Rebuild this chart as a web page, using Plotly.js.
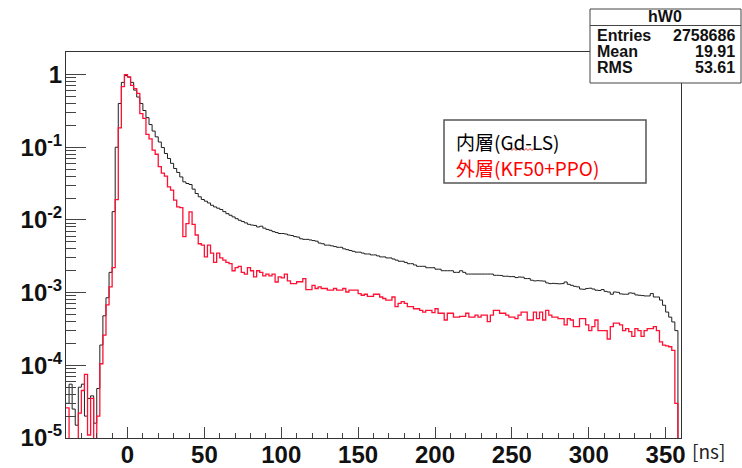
<!DOCTYPE html>
<html>
<head>
<meta charset="utf-8">
<script src="https://cdn.plot.ly/plotly-3.0.1.min.js"></script>
<style>html,body{margin:0;padding:0;background:#fff;}#chart{width:742px;height:468px;}</style>
</head>
<body>
<div id="chart"></div>
<script>
// Histogram hW0: 200 bins of 2 ns from -40 ns to 360 ns (bin contents, normalised to peak)
const nsStart = -40;
const binWidth = 2;

// 内層(Gd-LS) — black histogram
const innerGdLS = [
  3.0e-5, 5.5e-5, 2.5e-5, 1.5e-5, 5.0e-5, 5.5e-5, 2.0e-5, 3.5e-5, 3.8e-5, 1.6e-5,
  4.8e-5, 1.9e-4, 4.8e-4, 8.5e-4, 1.9e-3, 1.3e-2, 0.10, 0.40, 0.78, 0.97,
  0.92, 0.78, 0.61, 0.49, 0.40, 0.32, 0.255, 0.205, 0.167, 0.139,
  0.118, 0.099, 0.082, 0.070, 0.060, 0.051, 0.045, 0.039, 0.0334, 0.0317,
  0.0307, 0.0265, 0.0231, 0.0208, 0.0191, 0.0181, 0.0171, 0.0159, 0.0151, 0.0145,
  0.0139, 0.0130, 0.0122, 0.0116, 0.0110, 0.0104, 0.0099, 0.0095, 0.0091, 0.0087,
  0.0085, 0.0084, 0.0080, 0.0082, 0.0077, 0.0074, 0.0072, 0.0069, 0.0067, 0.0065,
  0.0065, 0.0064, 0.0062, 0.0061, 0.0059, 0.0058, 0.0055, 0.0054, 0.0054, 0.0053,
  0.0052, 0.0051, 0.0048, 0.0047, 0.0045, 0.0045, 0.0044, 0.0043, 0.0042, 0.0042,
  0.0040, 0.0039, 0.0038, 0.0037, 0.0036, 0.0036, 0.0035, 0.0034, 0.0034, 0.0033,
  0.0033, 0.0032, 0.0031, 0.0031, 0.0030, 0.0030, 0.0029, 0.0028, 0.0027, 0.0027,
  0.0026, 0.0025, 0.0025, 0.0024, 0.0023, 0.0023, 0.0023, 0.0022, 0.0022, 0.0022,
  0.0021, 0.0021, 0.0020, 0.0020, 0.0020, 0.0020, 0.0019, 0.0019, 0.0020, 0.0019,
  0.0018, 0.0018, 0.0018, 0.0018, 0.0018, 0.0018, 0.0018, 0.0018, 0.00180, 0.00173,
  0.00173, 0.00172, 0.00168, 0.00168, 0.00166, 0.00166, 0.00161, 0.00164, 0.00163, 0.00156,
  0.00156, 0.00148, 0.00145, 0.00146, 0.00145, 0.00144, 0.00136, 0.00133, 0.00134, 0.00133,
  0.00132, 0.00133, 0.00140, 0.00130, 0.00126, 0.00122, 0.00120, 0.00112, 0.00111, 0.00114,
  0.00115, 0.00112, 0.00108, 0.00107, 0.00110, 0.00104, 0.00102, 0.00095, 0.00102, 0.00101,
  0.00096, 0.00095, 0.00095, 0.00099, 0.00098, 0.00093, 0.00092, 0.00091, 0.00090, 0.00090,
  0.00097, 0.00087, 0.00087, 0.00079, 0.00067, 0.00054, 0.00046, 0.000395, 0.00030, 0
];

// 外層(KF50+PPO) — red histogram
const outerKF50PPO = [
  2.6e-5, 0, 0, 0, 2.2e-5, 4.5e-5, 7.5e-5, 1.1e-5, 3.5e-5, 0,
  2.0e-5, 1.05e-4, 2.6e-4, 6.8e-4, 1.2e-3, 2.2e-3, 0.019, 0.185, 0.68, 1.0,
  0.93, 0.71, 0.64, 0.55, 0.29, 0.25, 0.15, 0.13, 0.091, 0.080,
  0.054, 0.044, 0.040, 0.0285, 0.0257, 0.0187, 0.0151, 0.0148, 0.0059, 0.0089,
  0.0129, 0.0087, 0.0062, 0.0047, 0.0045, 0.0031, 0.0045, 0.0035, 0.0026, 0.0035,
  0.0030, 0.0028, 0.0026, 0.0025, 0.0020, 0.0022, 0.0023, 0.0019, 0.0018, 0.0022,
  0.0020, 0.00165, 0.0020, 0.0019, 0.0017, 0.0018, 0.0017, 0.0018, 0.0014, 0.00165,
  0.0016, 0.0018, 0.00145, 0.00133, 0.00133, 0.00141, 0.00141, 0.00156, 0.00110, 0.00110,
  0.00126, 0.00114, 0.00120, 0.00114, 0.00114, 0.00108, 0.00108, 0.00114, 0.00108, 0.00108,
  0.00114, 0.00102, 0.00108, 0.00108, 0.00108, 0.00097, 0.00092, 0.00095, 0.00089, 0.00089,
  0.00095, 0.00095, 0.00087, 0.00083, 0.00079, 0.00079, 0.00087, 0.00064, 0.00071, 0.00075,
  0.00071, 0.00064, 0.00064, 0.00060, 0.00060, 0.00057, 0.00054, 0.00057, 0.00057, 0.00053,
  0.00060, 0.00052, 0.00052, 0.00042, 0.00052, 0.00052, 0.00046, 0.00046, 0.00047, 0.00047,
  0.00052, 0.00046, 0.00046, 0.00049, 0.00046, 0.00049, 0.00049, 0.00040, 0.00049, 0.00057,
  0.00057, 0.00052, 0.00052, 0.00049, 0.00046, 0.00046, 0.00044, 0.00049, 0.00054, 0.00054,
  0.00042, 0.00042, 0.00054, 0.00044, 0.00054, 0.00042, 0.00057, 0.00049, 0.00046, 0.00046,
  0.00044, 0.00044, 0.00036, 0.00044, 0.00042, 0.00034, 0.00034, 0.00044, 0.00044, 0.00036,
  0.00030, 0.00034, 0.00042, 0.00030, 0.00030, 0.00030, 0.00023, 0.00034, 0.00038, 0.00038,
  0.00036, 0.00030, 0.00032, 0.00029, 0.00025, 0.00032, 0.00030, 0.00025, 0.00030, 0.00032,
  0.00032, 0.00034, 0.00030, 0.00021, 0.00019, 0.000185, 0.00018, 0.00016, 0.00003, 0
];

const seriesNames = ['内層(Gd-LS)', '外層(KF50+PPO)'];
const yTickVals = [1e-5, 1e-4, 1e-3, 1e-2, 1e-1, 1];
const yTickText = ['10<sup>-5</sup>', '10<sup>-4</sup>', '10<sup>-3</sup>', '10<sup>-2</sup>', '10<sup>-1</sup>', '1'];
const statsTitle = 'hW0';
const statsLabels = ['Entries', 'Mean', 'RMS'];
const statsValues = ['2758686', '19.91', '53.61'];
const xUnit = '[ns]';

// ---- build step outlines (bin edges) ----
function stepXY(vals) {
  const xs = [], ys = [];
  for (let k = 0; k < vals.length; k++) {
    xs.push(nsStart + k * binWidth);
    ys.push(vals[k] > 0 ? vals[k] : 1e-9);
  }
  xs.push(nsStart + vals.length * binWidth);
  ys.push(ys[ys.length - 1]);
  return {xs, ys};
}
const inner = stepXY(innerGdLS);
const outer = stepXY(outerKF50PPO);

const traces = [
  {x: inner.xs, y: inner.ys, type: 'scatter', mode: 'lines', name: seriesNames[0],
   line: {shape: 'hv', color: '#1e1e1e', width: 1, simplify: false}, hoverinfo: 'skip'},
  {x: outer.xs, y: outer.ys, type: 'scatter', mode: 'lines', name: seriesNames[1],
   line: {shape: 'hv', color: '#ff1133', width: 1.3, simplify: false}, hoverinfo: 'skip'}
];

// minor log ticks 2..9 per decade
const yMinor = [];
for (let d = -5; d <= 0; d++) for (let m = 2; m <= 9; m++) yMinor.push(m * Math.pow(10, d));

// plot area in pixels
const L = 66, R = 681, T = 52, B = 438;
const W = 742, H = 468;
const px = x => (x - L) / (R - L);
const py = y => (B - y) / (B - T);

const tickFont = {family: 'Liberation Sans, Arial, sans-serif', size: 24, color: '#111', weight: 700};
const statFont = {family: 'Liberation Sans, Arial, sans-serif', size: 16, color: '#111', weight: 700};
const legFont = {family: 'Noto Sans CJK JP, sans-serif', size: 19};

const annotations = [];
function ann(text, x, y, xanchor, font) {
  annotations.push({text: text, x: px(x), y: py(y), xref: 'paper', yref: 'paper',
    xanchor: xanchor, yanchor: 'middle', showarrow: false, font: font});
}
// stats box texts
ann(statsTitle, 665, 17, 'center', statFont);
const rowY = [35, 51, 67];
for (let i = 0; i < statsLabels.length; i++) {
  ann(statsLabels[i], 595, rowY[i], 'left', statFont);
  ann(statsValues[i], 737, rowY[i], 'right', statFont);
}
// legend texts
ann(seriesNames[0], 454, 141.5, 'left', Object.assign({color: '#000'}, legFont));
ann(seriesNames[1], 454, 167.5, 'left', Object.assign({color: '#ff0000'}, legFont));
// axis unit
ann(xUnit, 708, 451, 'center', {family: 'Noto Sans CJK JP, sans-serif', size: 19, color: '#222'});

// spell-check squiggle under "Gd"
let sq = 'M' + px(504) + ',' + py(150);
for (let i = 1; i <= 15; i++) {
  sq += ' L' + px(504 + i * 2) + ',' + py(i % 2 ? 148.5 : 150.5);
}

const shapes = [
  // stats box
  {type: 'rect', xref: 'paper', yref: 'paper', x0: px(590), x1: px(741), y0: py(9), y1: py(83),
   line: {color: '#444', width: 1}, fillcolor: '#fff', layer: 'above'},
  {type: 'line', xref: 'paper', yref: 'paper', x0: px(590), x1: px(741), y0: py(25.5), y1: py(25.5),
   line: {color: '#444', width: 1}, layer: 'above'},
  // legend box
  {type: 'rect', xref: 'paper', yref: 'paper', x0: px(444), x1: px(646), y0: py(120), y1: py(183),
   line: {color: '#555', width: 1.5}, fillcolor: '#fff', layer: 'above'},
  {type: 'path', xref: 'paper', yref: 'paper', path: sq, line: {color: '#e33', width: 1}, layer: 'above'}
];

const layout = {
  width: W, height: H,
  margin: {l: L, r: W - R, t: T, b: H - B, pad: 0},
  paper_bgcolor: '#fff', plot_bgcolor: '#fff',
  showlegend: false,
  xaxis: {
    range: [nsStart, nsStart + innerGdLS.length * binWidth],
    tickmode: 'linear', tick0: 0, dtick: 50,
    ticks: 'inside', ticklen: 11, tickwidth: 1, tickcolor: '#444',
    minor: {ticks: 'inside', ticklen: 5.5, dtick: 10, tick0: 0, tickwidth: 1, tickcolor: '#444', showgrid: false},
    showline: true, linecolor: '#333', linewidth: 1, mirror: true,
    showgrid: false, zeroline: false,
    tickfont: tickFont, ticklabelstandoff: -5
  },
  yaxis: {
    type: 'log', range: [-5, 0.31],
    tickmode: 'array', tickvals: yTickVals, ticktext: yTickText,
    ticks: 'inside', ticklen: 20, tickwidth: 1, tickcolor: '#444',
    minor: {ticks: 'inside', ticklen: 10, tickmode: 'array', tickvals: yMinor, tickwidth: 1, tickcolor: '#444', showgrid: false},
    showline: true, linecolor: '#333', linewidth: 1, mirror: true,
    showgrid: false, zeroline: false,
    tickfont: tickFont, ticklabelstandoff: -2
  },
  shapes: shapes,
  annotations: annotations
};

Plotly.newPlot('chart', traces, layout, {staticPlot: true, displayModeBar: false});
</script>
</body>
</html>
